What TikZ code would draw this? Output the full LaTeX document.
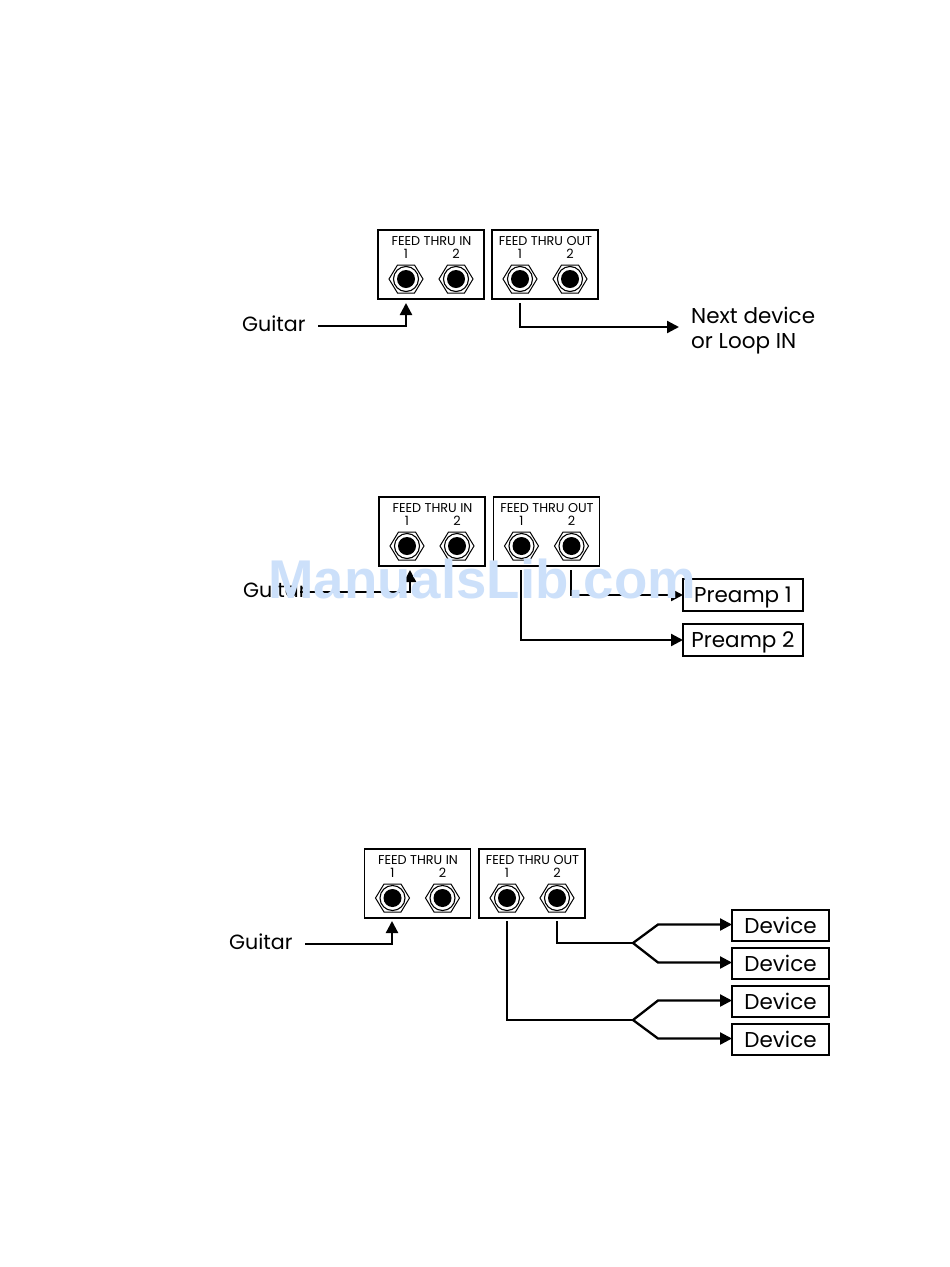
\documentclass[tikz,border=0pt]{standalone}
\usepackage{fontspec}
\setmainfont{Poppins}
\newfontfamily\wmfont{Liberation Sans}
\usetikzlibrary{arrows.meta}
\definecolor{wm}{HTML}{CCE0FA}
\tikzset{
  panel/.style={draw=black,line width=1.2pt,minimum width=106pt,minimum height=69pt,inner sep=0pt,outer sep=0pt},
  captxt/.style={inner sep=0pt,anchor=base,font=\fontsize{12.8}{14}\selectfont},
  lab/.style={inner sep=0pt,anchor=base west,font=\fontsize{21.5}{24}\selectfont},
  guitarlab/.style={inner sep=0pt,anchor=base west,font=\fontsize{20.6}{24}\selectfont},
  devbox/.style={draw=black,line width=2.6pt,inner sep=0pt,outer sep=0pt,text height=19pt,text depth=4pt,font=\fontsize{21.5}{24}\selectfont},
  wire/.style={line width=2.3pt,line join=miter},
  arr/.style={wire,-{Triangle[length=12pt,width=12pt]}},
}
\newcommand{\jack}[3]{%
  \coordinate (#1) at (#2,#3);
  \draw[line width=1pt] ([shift={(-17,0)}]#1) -- ([shift={(-8.5,-14)}]#1) -- ([shift={(8.5,-14)}]#1) -- ([shift={(17,0)}]#1) -- ([shift={(8.5,14)}]#1) -- ([shift={(-8.5,14)}]#1) -- cycle;
  \draw[line width=1.1pt] (#1) circle[radius=12.5];
  \fill (#1) circle[radius=9];
}
\newcommand{\panelset}[4]{% prefix, in-x-centre, out-x-centre, ycentre
  \node[panel] (#1in) at (#2,#4) {};
  \node[panel] (#1out) at (#3,#4) {};
  \node[captxt] (#1intxt) at (#2+.5,#4-19.5) {FEED THRU IN};
  \node[captxt] (#1outtxt) at (#3+.5,#4-19.5) {FEED THRU OUT};
  \node[captxt] (#1ia) at (#2-25,#4-6) {1};
  \node[captxt] (#1ib) at (#2+25,#4-6) {2};
  \node[captxt] (#1oa) at (#3-25,#4-6) {1};
  \node[captxt] (#1ob) at (#3+25,#4-6) {2};
  \jack{#1ja}{#2-25}{#4+14.5}
  \jack{#1jb}{#2+25}{#4+14.5}
  \jack{#1jc}{#3-25}{#4+14.5}
  \jack{#1jd}{#3+25}{#4+14.5}
}
\begin{document}
\begin{tikzpicture}[x=1pt,y=-1pt]
\useasboundingbox (0,0) rectangle (950,1267);
\fill[white] (0,0) rectangle (950,1267);

% --- diagram 1
\panelset{a}{431}{545}{264.5}
\node[guitarlab] (ag) at (242,331) {Guitar};
\node[lab] (an1) at (691,323) {Next device};
\node[lab] (an2) at (691,348) {or Loop IN};
\coordinate (ag0) at (318,326);
\coordinate (agt) at (406,303);
\coordinate (ao0) at (520,303);
\coordinate (aot) at (679,327);
\draw[arr] (ag0) -| (agt);
\draw[arr] (ao0) |- (aot);

% --- diagram 2
\panelset{b}{432}{546.5}{531.5}
\node[guitarlab] (bg) at (243,597.5) {Guitar};
\node[devbox,minimum width=120pt,minimum height=32pt] (p1) at (743,595) {Preamp 1};
\node[devbox,minimum width=120pt,minimum height=32pt] (p2) at (743,640) {Preamp 2};
\coordinate (bg0) at (300,592);
\coordinate (bgt) at (410,570);
\coordinate (bo1) at (521,570);
\coordinate (bo2) at (571,570);
\draw[arr] (bg0) -| (bgt);
\draw[arr] (bo2) |- (p1.west);
\draw[arr] (bo1) |- (p2.west);

% --- diagram 3
\panelset{c}{417.5}{532}{883.5}
\node[guitarlab] (cg) at (229,949) {Guitar};
\coordinate (cg0) at (305,944);
\coordinate (cgt) at (392,921);
\draw[arr] (cg0) -| (cgt);
\node[devbox,minimum width=97pt,minimum height=31pt] (d1) at (780.5,925.5) {Device};
\node[devbox,minimum width=97pt,minimum height=31pt] (d2) at (780.5,963.5) {Device};
\node[devbox,minimum width=97pt,minimum height=31pt] (d3) at (780.5,1001.5) {Device};
\node[devbox,minimum width=97pt,minimum height=31pt] (d4) at (780.5,1039.5) {Device};
\coordinate (co2) at (557,921);
\coordinate (co1) at (507,921);
\coordinate (f1) at (633,943);
\coordinate (f2) at (633,1020);
\draw[wire] (co2) |- (f1);
\draw[wire] (co1) |- (f2);
\draw[arr] (f1) -- (658,924.5) -- ([yshift=1pt]d1.west);
\draw[arr] (f1) -- (658,962.5) -- ([yshift=1pt]d2.west);
\draw[arr] (f2) -- (658,1000.5) -- ([yshift=1pt]d3.west);
\draw[arr] (f2) -- (658,1038.5) -- ([yshift=1pt]d4.west);

% --- watermark
\node[inner sep=0pt,anchor=base west,text=wm,font=\wmfont\bfseries\fontsize{54.6}{60}\selectfont] (wmk) at (268,598) {ManualsLib.com};
\end{tikzpicture}
\end{document}
